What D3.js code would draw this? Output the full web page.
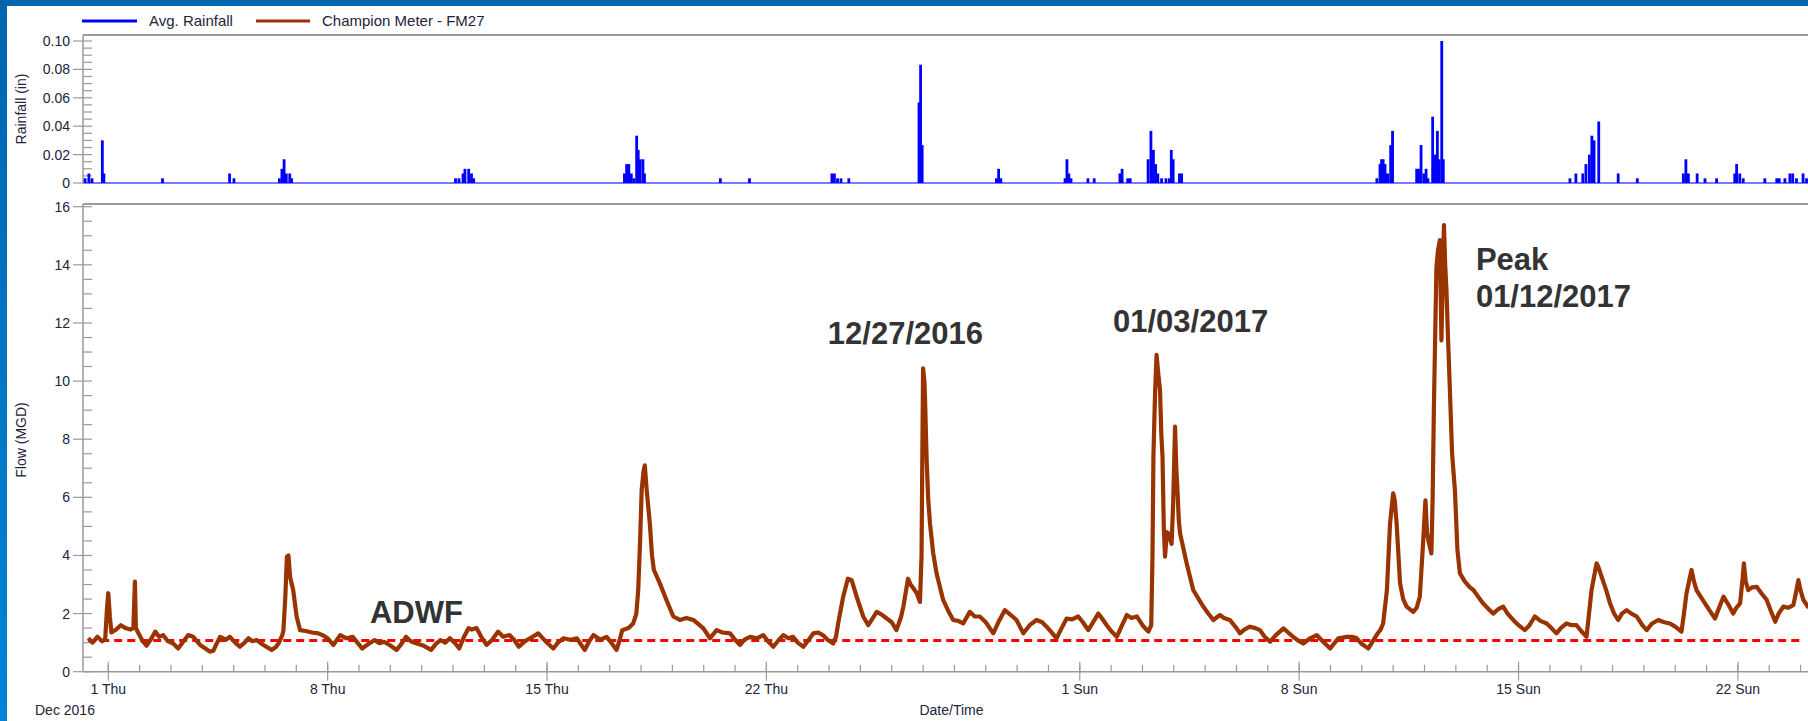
<!DOCTYPE html>
<html><head><meta charset="utf-8">
<script src="https://cdn.jsdelivr.net/npm/d3@7"></script>
<style>body{margin:0;background:#fff;overflow:hidden}svg{display:block;font-family:Arial,"Liberation Sans",sans-serif}</style>
</head><body><svg id="c" width="1808" height="721"></svg>
<script>
// ---- data (day offsets from 2016-12-01 00:00) ----
const rainDay = [-0.74,-0.62,-0.52,-0.19,-0.14,1.73,3.87,4.01,5.46,5.54,5.61,5.68,5.79,5.85,
 11.08,11.19,11.32,11.38,11.50,11.59,11.66,
 16.47,16.54,16.61,16.69,16.77,16.86,16.91,16.97,17.06,17.11,19.53,20.46,
 23.09,23.17,23.27,23.38,23.63,25.87,25.92,25.97,28.34,28.41,28.48,
 30.53,30.59,30.65,30.72,31.26,31.46,32.28,32.35,32.53,32.61,
 33.18,33.27,33.35,33.42,33.49,33.61,33.75,33.86,33.92,33.98,34.18,34.25,
 40.48,40.58,40.63,40.68,40.74,40.77,40.83,40.92,40.98,
 41.75,41.82,41.89,41.98,42.05,42.11,42.26,42.33,42.41,42.47,42.55,42.60,
 46.64,46.83,47.05,47.15,47.26,47.34,47.41,47.56,48.18,48.79,
 50.26,50.34,50.42,50.70,50.95,51.32,51.90,51.96,52.06,52.17,52.86,
 53.24,53.32,53.50,53.66,53.75,53.87,54.08,54.19];
const rainIn = [0.0033,0.0067,0.0033,0.03,0.0067,0.0033,0.0067,0.0033,0.0033,0.01,0.0167,0.0067,0.0067,0.0033,
 0.0033,0.0033,0.0067,0.01,0.01,0.0067,0.0033,
 0.0067,0.0133,0.0133,0.0067,0.0033,0.0333,0.0233,0.0167,0.0167,0.0067,0.0033,0.0033,
 0.0067,0.0067,0.0033,0.0033,0.0033,0.0567,0.0833,0.0267,0.0033,0.01,0.0033,
 0.0033,0.0167,0.0067,0.0033,0.0033,0.0033,0.0067,0.01,0.0033,0.0033,
 0.0167,0.0367,0.0233,0.0133,0.0067,0.0033,0.0033,0.0033,0.0233,0.0167,0.0067,0.0067,
 0.0033,0.0133,0.0167,0.0167,0.0133,0.0067,0.0067,0.0267,0.0367,
 0.01,0.01,0.0267,0.0067,0.01,0.0033,0.0467,0.02,0.0367,0.0167,0.10,0.0167,
 0.0033,0.0067,0.0067,0.0133,0.02,0.0333,0.03,0.0433,0.0067,0.0033,
 0.0067,0.0167,0.0067,0.0067,0.0033,0.0033,0.0067,0.0133,0.0067,0.0033,0.0033,
 0.0033,0.0033,0.0033,0.0067,0.0067,0.0033,0.0067,0.0033];

const flowDay = [-0.64,-0.5,-0.35,-0.2,-0.1,-0.04,0.0,0.05,0.1,0.25,0.4,0.55,0.7,0.8,0.85,0.88,0.95,1.1,1.22,1.35,1.5,1.62,1.75,1.9,
 2.07,2.23,2.4,2.55,2.71,2.93,3.1,3.24,3.35,3.45,3.57,3.75,3.88,4.05,4.2,4.35,4.47,4.6,4.73,4.95,5.21,5.35,5.43,5.55,5.59,5.65,5.7,5.75,5.8,5.9,
 6.01,6.12,6.3,6.5,6.7,6.85,7.0,7.18,7.4,7.6,7.8,7.95,8.1,8.3,8.5,8.65,8.8,9.0,9.2,9.35,9.5,9.65,9.84,10.05,10.3,10.45,10.6,10.75,10.9,
 11.05,11.2,11.35,11.5,11.6,11.75,11.9,12.07,12.25,12.44,12.6,12.8,12.95,13.1,13.3,13.46,13.72,13.95,14.2,14.35,14.52,14.75,14.95,
 15.2,15.35,15.48,15.7,15.9,16.05,16.22,16.32,16.4,16.6,16.75,16.85,16.91,16.97,17.02,17.08,17.12,17.18,17.28,17.35,17.41,17.6,17.81,
 18.03,18.24,18.45,18.67,18.99,19.2,19.41,19.6,19.84,20.0,20.16,20.3,20.48,20.7,20.9,21.05,21.22,21.4,21.54,21.7,21.85,22.0,22.18,
 22.35,22.5,22.65,22.8,22.95,23.13,23.22,23.29,23.45,23.6,23.72,23.88,24.09,24.25,24.4,24.52,24.7,24.84,25.0,25.15,25.3,25.37,25.52,
 25.6,25.69,25.8,25.9,25.95,25.98,26.0,26.04,26.06,26.11,26.16,26.22,26.32,26.43,26.64,26.8,26.96,27.12,27.28,27.49,27.65,27.81,
 28.0,28.24,28.4,28.61,28.8,28.98,29.2,29.4,29.62,29.8,29.94,30.1,30.26,30.42,30.58,30.75,30.95,31.1,31.27,31.45,31.59,31.7,31.86,
 32.0,32.18,32.35,32.5,32.65,32.82,33.0,33.19,33.28,33.32,33.35,33.4,33.45,33.5,33.56,33.6,33.64,33.68,33.72,33.78,33.83,33.93,33.98,
 34.04,34.08,34.11,34.16,34.2,34.41,34.62,34.94,35.1,35.26,35.47,35.6,35.79,36.0,36.11,36.25,36.43,36.6,36.75,36.9,37.07,37.25,37.5,
 37.65,37.81,38.0,38.13,38.35,38.56,38.75,38.99,39.1,39.25,39.52,39.7,39.84,40.0,40.21,40.35,40.47,40.6,40.68,40.8,40.9,41.0,41.05,
 41.11,41.22,41.32,41.43,41.64,41.75,41.85,41.96,42.03,42.08,42.12,42.22,42.26,42.3,42.38,42.43,42.49,42.54,42.58,42.62,42.66,42.7,
 42.75,42.81,42.88,42.97,43.05,43.13,43.29,43.45,43.56,43.7,43.87,44.05,44.19,44.35,44.51,44.65,44.83,45.0,45.2,45.35,45.52,45.7,
 45.9,46.05,46.21,46.35,46.53,46.7,46.85,47.0,47.17,47.25,47.33,47.49,47.55,47.65,47.8,47.92,48.05,48.18,48.3,48.45,48.6,48.77,48.95,
 49.09,49.25,49.46,49.65,49.83,50.0,50.2,50.28,50.36,50.52,50.6,50.68,50.8,50.95,51.1,51.27,51.4,51.54,51.7,51.85,51.95,52.07,52.15,
 52.19,52.25,52.33,52.45,52.6,52.75,52.92,53.05,53.19,53.3,53.45,53.6,53.77,53.85,53.93,54.0,54.09,54.23,54.4,54.6];
const flowMGD = [1.15,1.0,1.2,1.05,1.1,2.2,2.7,1.9,1.35,1.45,1.6,1.5,1.45,1.5,3.1,1.5,1.35,1.05,0.9,1.1,1.38,1.2,1.26,1.05,
 0.97,0.8,1.05,1.26,1.2,0.92,0.8,0.69,0.72,0.95,1.2,1.1,1.2,1.0,0.86,1.0,1.15,1.05,1.09,0.92,0.75,0.85,0.97,1.25,1.43,2.6,3.96,4.0,3.27,2.81,
 1.9,1.43,1.4,1.35,1.32,1.25,1.15,0.92,1.26,1.15,1.2,1.0,0.8,0.95,1.09,0.98,1.03,0.9,0.75,0.95,1.2,1.05,0.97,0.9,0.75,0.95,1.09,1.0,1.15,
 1.0,0.8,1.2,1.5,1.45,1.5,1.2,0.92,1.1,1.38,1.2,1.26,1.1,0.86,1.05,1.15,1.32,1.05,0.8,1.0,1.15,1.1,1.15,
 0.75,1.05,1.26,1.1,1.2,1.0,0.75,1.1,1.43,1.5,1.66,2.0,2.81,4.5,6.25,6.9,7.1,6.25,5.1,4.0,3.5,3.04,2.47,
 1.9,1.78,1.85,1.78,1.49,1.15,1.43,1.35,1.32,1.1,0.92,1.1,1.2,1.15,1.26,1.05,0.86,1.1,1.26,1.15,1.2,1.0,0.86,
 1.1,1.32,1.35,1.26,1.1,0.97,1.2,1.66,2.58,3.2,3.15,2.58,1.9,1.6,1.85,2.06,1.95,1.83,1.7,1.43,1.9,2.24,3.2,
 3.0,2.87,2.7,2.4,3.96,8.0,10.44,10.0,9.46,7.4,6.0,5.1,4.1,3.38,2.47,2.1,1.78,1.75,1.66,2.06,1.9,1.9,
 1.7,1.32,1.7,2.12,1.95,1.78,1.32,1.6,1.78,1.7,1.55,1.35,1.15,1.5,1.83,1.8,1.9,1.7,1.43,1.75,2.0,1.85,1.6,
 1.4,1.2,1.6,1.95,1.85,1.9,1.6,1.38,1.6,4.0,7.4,9.5,10.9,10.3,9.7,8.2,7.4,5.0,3.96,4.8,4.76,4.4,5.8,
 8.43,7.0,6.4,5.2,4.76,3.73,2.81,2.24,2.0,1.78,1.95,1.85,1.78,1.5,1.32,1.45,1.55,1.5,1.43,1.2,1.03,1.25,1.49,
 1.35,1.2,1.05,0.97,1.15,1.26,1.05,0.8,0.95,1.15,1.2,1.2,1.15,0.95,0.8,1.05,1.26,1.45,1.66,2.8,5.1,6.14,5.9,
 5.1,3.04,2.5,2.24,2.06,2.2,2.58,4.53,5.9,4.8,4.53,4.07,6.0,9.12,13.9,14.5,14.85,11.4,13.5,15.37,14.0,13.13,
 11.5,9.7,7.5,6.25,4.2,3.38,3.1,2.9,2.81,2.6,2.35,2.15,2.0,2.15,2.24,2.0,1.78,1.6,1.43,1.6,1.9,1.75,
 1.66,1.5,1.32,1.5,1.66,1.6,1.6,1.4,1.2,2.0,2.81,3.73,3.6,3.27,2.8,2.35,2.0,1.78,2.0,2.12,2.0,1.9,1.6,
 1.43,1.65,1.78,1.7,1.66,1.55,1.38,2.0,2.7,3.5,3.1,2.81,2.6,2.35,2.1,1.83,2.2,2.58,2.3,2.0,2.2,2.35,3.2,
 3.73,3.1,2.81,2.9,2.92,2.7,2.47,2.1,1.72,2.0,2.24,2.2,2.29,2.7,3.15,2.8,2.47,2.24,2.35,2.3];

const adwfValue = 1.07;
const adwfDays = [-0.64, 53.97];
const majorTickDates = ["2016-12-01","2016-12-08","2016-12-15","2016-12-22","2017-01-01","2017-01-08","2017-01-15","2017-01-22"];
const majorTickLabels = ["1 Thu","8 Thu","15 Thu","22 Thu","1 Sun","8 Sun","15 Sun","22 Sun"];
const rainTicks = [0,0.02,0.04,0.06,0.08,0.10];
const rainTickLabels = ["0","0.02","0.04","0.06","0.08","0.10"];
const flowTicks = [0,2,4,6,8,10,12,14,16];
const legendLabels = ["Avg. Rainfall","Champion Meter - FM27"];
const noteTexts = ["ADWF","12/27/2016","01/03/2017","Peak","01/12/2017"];
const noteDays = [8.35,22.96,32.06,43.64,43.64];
const noteMGD = [1.68,11.28,11.70,13.82,12.56];

// ---- layout ----
const W=1808,H=721, L=83, R=1820;
const BROWN="#993300", BLUE="#0000ff", AX="#9a9a9a", TXT="#23233a";
const day0 = Date.UTC(2016,11,1);
const toDate = d => new Date(day0 + d*864e5);
const x = d3.scaleUtc().domain([toDate(-0.807), toDate(54.62)]).range([L, R]);
const yR = d3.scaleLinear().domain([0,0.10]).range([183,41]);
const yF = d3.scaleLinear().domain([0,16]).range([671.7,206.7]);
const svg = d3.select("#c");

// frame
const defs = svg.append("defs");
const g = defs.append("linearGradient").attr("id","lb").attr("x1",0).attr("y1",0).attr("x2",0).attr("y2",1);
g.append("stop").attr("offset","0").attr("stop-color","#0065ae");
g.append("stop").attr("offset","1").attr("stop-color","#0084d8");
svg.append("rect").attr("x",0).attr("y",0).attr("width",W).attr("height",H).attr("fill","#fff");
svg.append("rect").attr("x",0).attr("y",0).attr("width",W).attr("height",6).attr("fill","#0067b0");
svg.append("rect").attr("x",0).attr("y",0).attr("width",7).attr("height",H).attr("fill","url(#lb)");

// legend
const leg = svg.append("g");
[[82,137,149,BLUE],[256,310,322,BROWN]].forEach((p,i)=>{
  leg.append("line").attr("x1",p[0]).attr("x2",p[1]).attr("y1",21).attr("y2",21).attr("stroke",p[3]).attr("stroke-width",3);
  leg.append("text").attr("x",p[2]).attr("y",26).attr("font-size",15).attr("fill",TXT).text(legendLabels[i]);
});

// ---- rainfall panel ----
svg.append("line").attr("x1",L).attr("x2",W).attr("y1",35).attr("y2",35).attr("stroke",AX).attr("stroke-width",2);
svg.append("line").attr("x1",L).attr("x2",W).attr("y1",183).attr("y2",183).attr("stroke",AX).attr("stroke-width",1.5);
const rainMinor = d3.range(0,0.1001,0.005);
svg.append("g").selectAll("line").data(rainMinor).join("line")
  .attr("x1",L).attr("x2",L+9).attr("y1",d=>yR(d)).attr("y2",d=>yR(d)).attr("stroke",AX).attr("stroke-width",1.2);
svg.append("g").selectAll("line").data(rainTicks).join("line")
  .attr("x1",L-10).attr("x2",L).attr("y1",d=>yR(d)).attr("y2",d=>yR(d)).attr("stroke",AX).attr("stroke-width",1.2);
svg.append("g").selectAll("text").data(rainTicks).join("text")
  .attr("x",L-13).attr("y",d=>yR(d)+5).attr("text-anchor","end").attr("font-size",14).attr("fill",TXT)
  .text((d,i)=>rainTickLabels[i]);
svg.append("line").attr("x1",L).attr("x2",L).attr("y1",35).attr("y2",183).attr("stroke",AX).attr("stroke-width",1.5);
svg.append("text").attr("transform",`translate(26,109) rotate(-90)`).attr("text-anchor","middle")
  .attr("font-size",14).attr("fill",TXT).text("Rainfall (in)");
// rainfall baseline + bars
svg.append("line").attr("x1",x(toDate(-0.78))).attr("x2",W).attr("y1",yR(0)).attr("y2",yR(0))
  .attr("stroke","#7a7aff").attr("stroke-width",2);
svg.append("g").selectAll("rect").data(rainDay).join("rect")
  .attr("x",d=>x(toDate(d))-1.4).attr("width",2.8)
  .attr("y",(d,i)=>yR(rainIn[i])).attr("height",(d,i)=>yR(0)-yR(rainIn[i]))
  .attr("fill",BLUE);

// ---- flow panel ----
svg.append("line").attr("x1",L).attr("x2",W).attr("y1",204).attr("y2",204).attr("stroke",AX).attr("stroke-width",2);
svg.append("line").attr("x1",L).attr("x2",W).attr("y1",yF(0)).attr("y2",yF(0)).attr("stroke",AX).attr("stroke-width",1.5);
svg.append("line").attr("x1",L).attr("x2",L).attr("y1",204).attr("y2",yF(0)).attr("stroke",AX).attr("stroke-width",1.5);
const flowMinor = d3.range(0,16.01,0.5);
svg.append("g").selectAll("line").data(flowMinor).join("line")
  .attr("x1",L).attr("x2",L+9).attr("y1",d=>yF(d)).attr("y2",d=>yF(d)).attr("stroke",AX).attr("stroke-width",1.2);
svg.append("g").selectAll("line").data(flowTicks).join("line")
  .attr("x1",L-10).attr("x2",L).attr("y1",d=>yF(d)).attr("y2",d=>yF(d)).attr("stroke",AX).attr("stroke-width",1.2);
svg.append("g").selectAll("text").data(flowTicks).join("text")
  .attr("x",L-13).attr("y",d=>yF(d)+5).attr("text-anchor","end").attr("font-size",14).attr("fill",TXT).text(d=>d);
svg.append("text").attr("transform",`translate(26,440) rotate(-90)`).attr("text-anchor","middle")
  .attr("font-size",14).attr("fill",TXT).text("Flow (MGD)");

// x ticks
const minorDays = d3.utcDay.range(toDate(0), toDate(54.62));
svg.append("g").selectAll("line").data(minorDays).join("line")
  .attr("x1",d=>x(d)).attr("x2",d=>x(d)).attr("y1",yF(0)-7).attr("y2",yF(0)).attr("stroke",AX).attr("stroke-width",1.2);
const majors = majorTickDates.map(s=>new Date(s+"T00:00:00Z"));
svg.append("g").selectAll("line").data(majors).join("line")
  .attr("x1",d=>x(d)).attr("x2",d=>x(d)).attr("y1",yF(0)-10).attr("y2",yF(0)+9).attr("stroke",AX).attr("stroke-width",1.2);
svg.append("g").selectAll("text").data(majors).join("text")
  .attr("x",d=>x(d)).attr("y",694).attr("text-anchor","middle").attr("font-size",14).attr("fill",TXT)
  .text((d,i)=>majorTickLabels[i]);
svg.append("text").attr("x",35).attr("y",715).attr("font-size",14).attr("fill",TXT).text("Dec 2016");
svg.append("text").attr("x",(L+R)/2).attr("y",715).attr("text-anchor","middle").attr("font-size",14).attr("fill",TXT).text("Date/Time");

// ADWF dashed line
svg.append("line").attr("x1",x(toDate(adwfDays[0]))).attr("x2",x(toDate(adwfDays[1])))
  .attr("y1",yF(adwfValue)).attr("y2",yF(adwfValue))
  .attr("stroke","#ff0000").attr("stroke-width",3).attr("stroke-dasharray","8,5");

// flow line
const line = d3.line().x((d,i)=>x(toDate(flowDay[i]))).y((d,i)=>yF(flowMGD[i]));
svg.append("path").datum(flowMGD).attr("d",line).attr("fill","none").attr("stroke",BROWN)
  .attr("stroke-width",4.2).attr("stroke-linejoin","round");

// annotations
svg.append("g").selectAll("text").data(noteTexts).join("text")
  .attr("x",(d,i)=>x(toDate(noteDays[i]))).attr("y",(d,i)=>yF(noteMGD[i]))
  .attr("font-size",31).attr("font-weight","bold").attr("fill","#333333").text(d=>d);
</script></body></html>
